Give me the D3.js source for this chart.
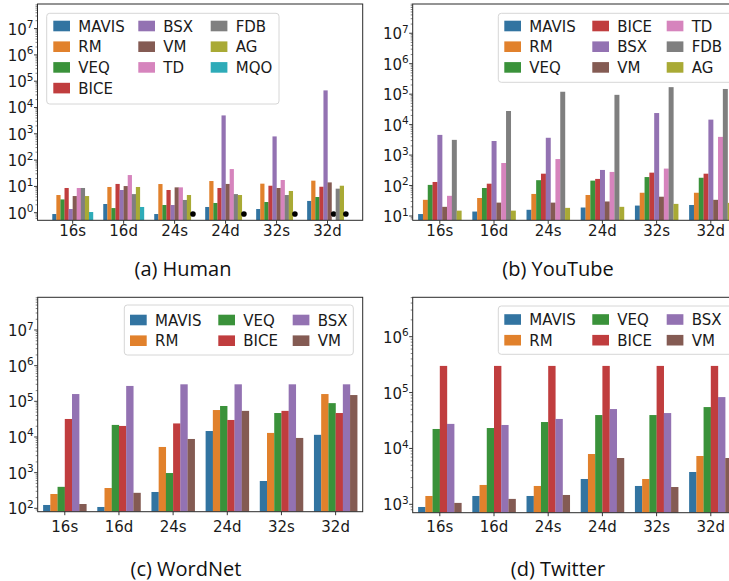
<!DOCTYPE html>
<html><head><meta charset="utf-8">
<script src="https://cdn.jsdelivr.net/npm/d3@7"></script>
<style>body{margin:0;background:#fff;overflow:hidden} svg{display:block}</style>
</head><body><svg id="chart" width="729" height="581"></svg>
<script>
// ---------- DATA ----------
const categories = ["16s", "16d", "24s", "24d", "32s", "32d"];

// (a) Human  (null = missing, drawn as a black dot)
const humanSeries = ["MAVIS", "RM", "VEQ", "BICE", "BSX", "VM", "TD", "FDB", "AG", "MQO"];
const humanMAVIS = [0.89, 2.14, 0.89, 1.65, 1.38, 2.8];
const humanRM    = [4.7, 9.5, 12.3, 16, 12.7, 16.5];
const humanVEQ   = [3.2, 1.5, 1.96, 2.34, 2.55, 3.95];
const humanBICE  = [8.7, 12.4, 7.3, 8.7, 10.6, 9.7];
const humanBSX   = [1.38, 7.3, 1.96, 5000, 795, 44700];
const humanVM    = [4.3, 10.3, 9.2, 12.4, 8.7, 14.2];
const humanTD    = [8.7, 27, 9.2, 45.6, 17.5, null];
const humanFDB   = [8.7, 5.1, 3.05, 5.1, 4.7, 8.2];
const humanAG    = [4.3, 9.5, 4.7, 4.7, 6.7, 10.6];
const humanMQO   = [1.06, 1.65, null, null, null, null];

// (b) YouTube
const youtubeSeries = ["MAVIS", "RM", "VEQ", "BICE", "BSX", "VM", "TD", "FDB", "AG"];
const youtubeMAVIS = [11.6, 14, 16, 19, 22, 23];
const youtubeRM    = [34, 39, 53, 49, 58, 58];
const youtubeVEQ   = [105, 83, 150, 145, 190, 180];
const youtubeBICE  = [131, 115, 245, 165, 265, 245];
const youtubeBSX   = [4600, 2900, 3700, 325, 24000, 14600];
const youtubeVM    = [20, 27.5, 27.5, 30, 43, 34];
const youtubeTD    = [46, 550, 740, 280, 360, 3960];
const youtubeFDB   = [3160, 28000, 120000, 95000, 170000, 148000];
const youtubeAG    = [15, 15, 18.5, 20, 25, 27];

// (c) WordNet
const wordnetSeries = ["MAVIS", "RM", "VEQ", "BICE", "BSX", "VM"];
const wordnetMAVIS = [124, 109, 287, 14700, 584, 11500];
const wordnetRM    = [252, 371, 5250, 57000, 13000, 160000];
const wordnetVEQ   = [400, 21800, 976, 74000, 47000, 89000];
const wordnetBICE  = [32000, 20400, 24000, 30000, 54000, 47000];
const wordnetBSX   = [160000, 270000, 300000, 300000, 300000, 300000];
const wordnetVM    = [132, 272, 8800, 54000, 9400, 150000];

// (d) Twitter
const twitterSeries = ["MAVIS", "RM", "VEQ", "BICE", "BSX", "VM"];
const twitterMAVIS = [896, 1410, 1410, 2840, 2130, 3790];
const twitterRM    = [1410, 2220, 2130, 7950, 2840, 7330];
const twitterVEQ   = [22300, 23200, 29700, 39600, 39600, 55000];
const twitterBICE  = [300000, 300000, 300000, 300000, 300000, 300000];
const twitterBSX   = [27500, 26300, 33700, 50700, 43000, 83000];
const twitterVM    = [1060, 1250, 1470, 6740, 2040, 6740];

const seriesColors = {
  MAVIS: "#3274a1", RM: "#e1812c", VEQ: "#3a923a", BICE: "#c03d3e", BSX: "#9372b2",
  VM: "#845b53", TD: "#d684bd", FDB: "#7f7f7f", AG: "#a9aa35", MQO: "#2eabb8"
};

const panels = [
  { caption: "(a) Human", series: humanSeries,
    values: [humanMAVIS, humanRM, humanVEQ, humanBICE, humanBSX, humanVM, humanTD, humanFDB, humanAG, humanMQO],
    box: [37.5, 4, 362.7, 220.3], xdom: [-0.69, 5.69], ydom: [-0.289, 7.935], ticks: [0, 7],
    legend: { box: [46.7, 13.3, 279, 104], cols: [53.3, 138.3, 210.7], rowY: 26, rowsPerCol: [4, 3, 3] },
    capX: 183, capY: 276, tickLabelY: 236 },
  { caption: "(b) YouTube", series: youtubeSeries,
    values: [youtubeMAVIS, youtubeRM, youtubeVEQ, youtubeBICE, youtubeBSX, youtubeVM, youtubeTD, youtubeFDB, youtubeAG],
    box: [412.7, 4, 737.9, 220.3], xdom: [-0.5, 5.5], ydom: [0.859, 7.96], ticks: [1, 7],
    legend: { box: [498.3, 13.3, 742, 82.3], cols: [504.3, 592.3, 666.7], rowY: 26, rowsPerCol: [3, 3, 3] },
    capX: 558, capY: 276, tickLabelY: 236 },
  { caption: "(c) WordNet", series: wordnetSeries,
    values: [wordnetMAVIS, wordnetRM, wordnetVEQ, wordnetBICE, wordnetBSX, wordnetVM],
    box: [37.7, 297.3, 362.7, 511.7], xdom: [-0.5, 5.5], ydom: [1.905, 7.917], ticks: [2, 7],
    legend: { box: [124.3, 305, 353.3, 355], cols: [130, 218.3, 292.7], rowY: 320, rowsPerCol: [2, 2, 2] },
    capX: 186, capY: 576, tickLabelY: 532 },
  { caption: "(d) Twitter", series: twitterSeries,
    values: [twitterMAVIS, twitterRM, twitterVEQ, twitterBICE, twitterBSX, twitterVM],
    box: [412.7, 297.3, 737.9, 512.7], xdom: [-0.5, 5.5], ydom: [2.85, 6.705], ticks: [3, 6],
    legend: { box: [498.3, 306, 742, 354.3], cols: [504.3, 592.3, 666.7], rowY: 319.5, rowsPerCol: [2, 2, 2] },
    capX: 558, capY: 576, tickLabelY: 532 }
];

// ---------- DRAW ----------
const svg = d3.select("#chart");
const FONT = "'DejaVu Sans', sans-serif";
const missingValue = 0.89;

panels.forEach((p, pi) => {
  const [x0, y0, x1, y1] = p.box;
  const g = svg.append("g");
  const clipId = "clip" + pi;
  svg.append("clipPath").attr("id", clipId).append("rect")
    .attr("x", x0).attr("y", y0).attr("width", x1 - x0).attr("height", y1 - y0);

  const x = d3.scaleLinear().domain(p.xdom).range([x0, x1]);
  const y = d3.scaleLog().domain([Math.pow(10, p.ydom[0]), Math.pow(10, p.ydom[1])]).range([y1, y0]);
  const n = p.series.length;
  const bw = 0.8 / n;

  const plot = g.append("g").attr("clip-path", `url(#${clipId})`);
  p.series.forEach((s, si) => {
    const vals = p.values[si];
    const off = -0.4 + bw * si;
    plot.selectAll(null).data(categories.map((c, ci) => ({ ci, v: vals[ci] })).filter(d => d.v != null))
      .join("rect")
      .attr("x", d => x(d.ci + off))
      .attr("width", d => x(d.ci + off + bw) - x(d.ci + off) + 0.15)
      .attr("y", d => y(d.v))
      .attr("height", d => y1 - y(d.v))
      .attr("fill", seriesColors[s]);
    plot.selectAll(null).data(categories.map((c, ci) => ({ ci, v: vals[ci] })).filter(d => d.v == null))
      .join("circle")
      .attr("cx", d => x(d.ci + off + bw / 2))
      .attr("cy", y(missingValue))
      .attr("r", 2.8)
      .attr("fill", "#000");
  });

  // y ticks (major + minor)
  const major = d3.range(p.ticks[0], p.ticks[1] + 1);
  const minor = [];
  for (let e = Math.floor(p.ydom[0]) - 1; e <= Math.ceil(p.ydom[1]); e++) {
    for (let k = 2; k <= 9; k++) {
      const v = k * Math.pow(10, e);
      if (Math.log10(v) >= p.ydom[0] && Math.log10(v) <= p.ydom[1]) minor.push(v);
    }
  }
  g.selectAll(null).data(minor).join("line")
    .attr("x1", x0 - 2).attr("x2", x0).attr("y1", d => y(d)).attr("y2", d => y(d))
    .attr("stroke", "#333").attr("stroke-width", 0.6);
  g.selectAll(null).data(major).join("line")
    .attr("x1", x0 - 3.5).attr("x2", x0).attr("y1", d => y(Math.pow(10, d))).attr("y2", d => y(Math.pow(10, d)))
    .attr("stroke", "#222").attr("stroke-width", 0.9);
  const yl = g.selectAll(null).data(major).join("text")
    .attr("x", x0 - 4).attr("y", d => y(Math.pow(10, d)) + 6)
    .attr("text-anchor", "end").attr("font-family", FONT).attr("font-size", 15).attr("fill", "#1a1a1a");
  yl.append("tspan").text("10");
  yl.append("tspan").attr("dy", -6.5).attr("font-size", 10.5).text(d => d);

  // x ticks
  g.selectAll(null).data(categories).join("line")
    .attr("x1", (d, i) => x(i)).attr("x2", (d, i) => x(i)).attr("y1", y1).attr("y2", y1 + 3.5)
    .attr("stroke", "#222").attr("stroke-width", 0.9);
  g.selectAll(null).data(categories).join("text")
    .attr("x", (d, i) => x(i)).attr("y", p.tickLabelY)
    .attr("text-anchor", "middle").attr("font-family", FONT).attr("font-size", 15).attr("fill", "#1a1a1a")
    .text(d => d);

  // spines
  g.append("rect").attr("x", x0).attr("y", y0).attr("width", x1 - x0).attr("height", y1 - y0)
    .attr("fill", "none").attr("stroke", "#2a2a2a").attr("stroke-width", 1);

  // legend
  const L = p.legend;
  g.append("rect").attr("x", L.box[0]).attr("y", L.box[1])
    .attr("width", L.box[2] - L.box[0]).attr("height", L.box[3] - L.box[1])
    .attr("rx", 3).attr("fill", "#fff").attr("fill-opacity", 0.85)
    .attr("stroke", "#d6d6d6").attr("stroke-width", 1);
  let idx = 0;
  L.rowsPerCol.forEach((cnt, col) => {
    for (let r = 0; r < cnt; r++) {
      const s = p.series[idx++];
      const cy = L.rowY + r * 20.7;
      g.append("rect").attr("x", L.cols[col]).attr("y", cy - 5.3).attr("width", 16.7).attr("height", 10.6)
        .attr("fill", seriesColors[s]);
      g.append("text").attr("x", L.cols[col] + 25).attr("y", cy + 5.5)
        .attr("font-family", FONT).attr("font-size", 15).attr("fill", "#1a1a1a").text(s);
    }
  });

  // caption
  svg.append("text").attr("x", p.capX).attr("y", p.capY).attr("text-anchor", "middle")
    .attr("font-family", "'Open Sans', sans-serif").attr("font-size", 20).attr("fill", "#111")
    .text(p.caption);
});
</script>
</body></html>
